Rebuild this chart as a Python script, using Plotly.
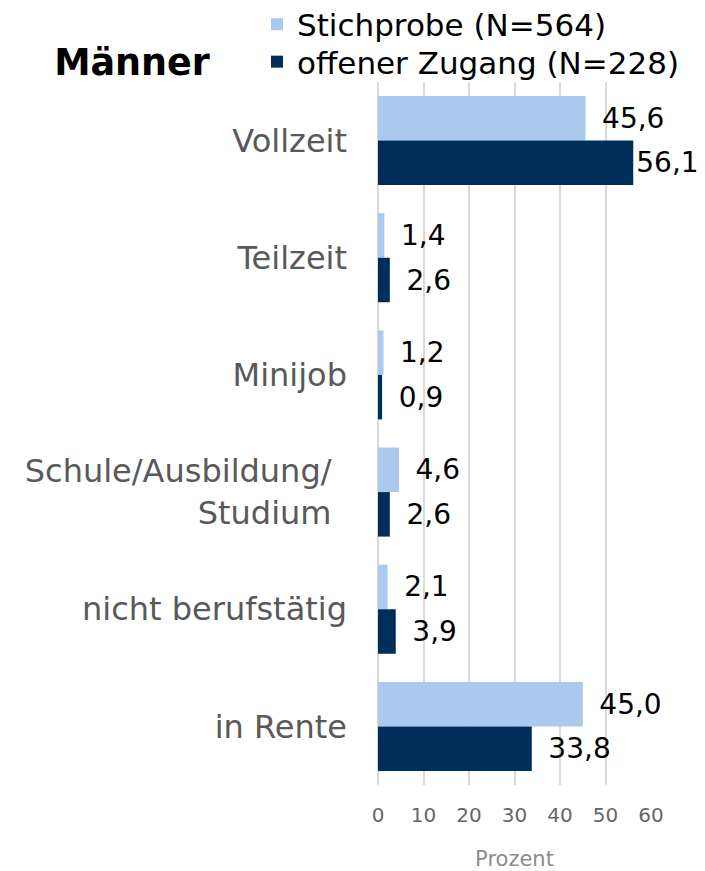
import plotly.graph_objects as go

categories = ["Vollzeit", "Teilzeit", "Minijob", "Schule/Ausbildung/Studium", "nicht berufstätig", "in Rente"]
tick_labels = ["Vollzeit", "Teilzeit", "Minijob", "Schule/Ausbildung/\u00a0\u2006<br>Studium\u00a0\u2006", "nicht berufstätig", "in Rente"]
stichprobe = [45.6, 1.4, 1.2, 4.6, 2.1, 45.0]
offener_zugang = [56.1, 2.6, 0.9, 2.6, 3.9, 33.8]
series_names = ["Stichprobe (N=564)", "offener Zugang (N=228)"]
x_ticks = [0, 10, 20, 30, 40, 50, 60]

FONT = "DejaVu Sans"
LIGHT = "#A9C9EE"
DARK = "#002E5A"

# page body has an 8px margin, so the figure is drawn 8px smaller
OFF = 8
W, H = 705 - OFF, 871 - OFF
ML, MR, MT, MB = 378 - OFF, 54, 82 - OFF, 86
PW, PH = W - ML - MR, H - MT - MB


def labels(vals):
    out = []
    for v in vals:
        s = f"{v:.1f}".replace(".", ",")
        pre = "" if v > 55 else "\u00a0\u2006"
        out.append(pre + s)
    return out


fig = go.Figure()
for name, vals, col, lg in [(series_names[0], stichprobe, LIGHT, "legend"),
                            (series_names[1], offener_zugang, DARK, "legend2")]:
    fig.add_trace(go.Bar(
        y=categories, x=vals, orientation="h", name=name, legend=lg,
        marker=dict(color=col, line=dict(color=col, width=0)),
        text=labels(vals), textposition="outside", cliponaxis=False,
        constraintext="none",
        textfont=dict(family=FONT, size=28, color="black"),
        hoverinfo="skip",
    ))

legend_common = dict(orientation="v", xanchor="left", yanchor="middle",
                     font=dict(family=FONT, size=31, color="black"),
                     bgcolor="rgba(0,0,0,0)")
fig.update_layout(
    width=W, height=H,
    margin=dict(l=ML, r=MR, t=MT, b=MB, autoexpand=False),
    paper_bgcolor="white", plot_bgcolor="white",
    barmode="group", bargap=0.24, bargroupgap=0,
    font=dict(family=FONT),
    title=dict(text="<b>Männer</b>", x=(132 - OFF) / W, xanchor="center",
               y=1 - (62 - OFF) / H, yanchor="middle",
               font=dict(family=FONT, size=36.5, color="black")),
    legend=dict(x=(249 - ML) / PW, y=1 + (MT - (24.5 - OFF)) / PH, **legend_common),
    legend2=dict(x=(249 - ML) / PW, y=1 + (MT - (62 - OFF)) / PH, **legend_common),
    showlegend=True,
)
fig.update_xaxes(
    range=[0, 60], tickvals=x_ticks, ticktext=[str(t) for t in x_ticks],
    showgrid=True, gridcolor="#D9D9D9", gridwidth=2,
    zeroline=True, zerolinecolor="#D9D9D9", zerolinewidth=2,
    showline=False, ticks="", ticklabelstandoff=16,
    tickfont=dict(family=FONT, size=20, color="#666666"),
    title=dict(text="Prozent", font=dict(family=FONT, size=21, color="#8C8C8C"), standoff=27),
    fixedrange=True, automargin=False,
)
fig.update_yaxes(
    autorange="reversed", tickmode="array", tickvals=categories, ticktext=tick_labels,
    showgrid=False, zeroline=False, showline=False, ticks="",
    ticklabelstandoff=30,
    tickfont=dict(family=FONT, size=32, color="#595959"),
    fixedrange=True, automargin=False,
)

fig.write_html("out.html")
